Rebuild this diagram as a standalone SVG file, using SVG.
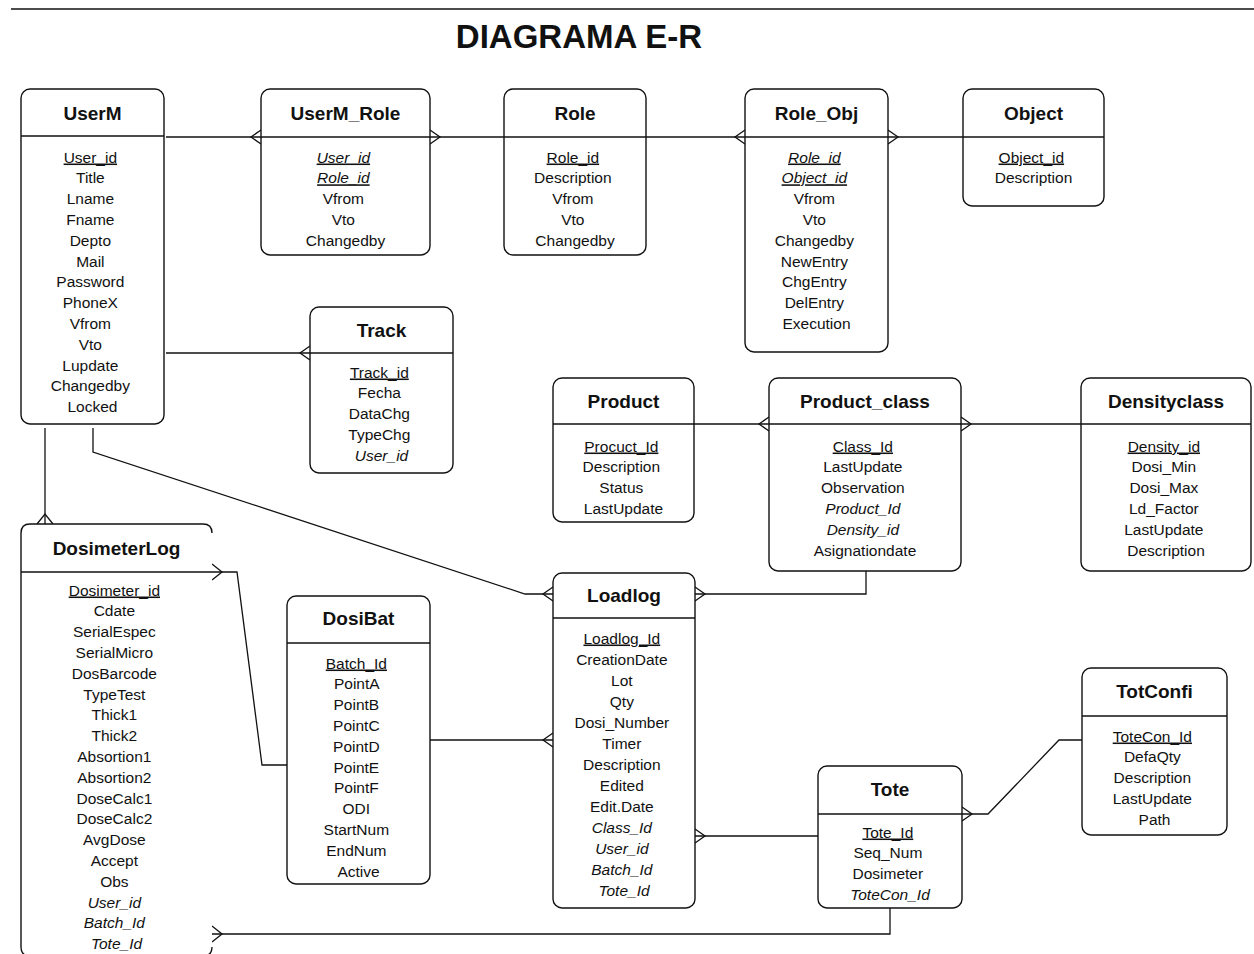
<svg xmlns="http://www.w3.org/2000/svg" width="1254" height="954" viewBox="0 0 1254 954">
  <style>
    .box { fill: #ffffff; stroke: #111; stroke-width: 1.4; }
    .sep { stroke: #111; stroke-width: 1.4; }
    .cn { fill: none; stroke: #111; stroke-width: 1.3; }
    .t { font-family: "Liberation Sans", Arial, sans-serif; font-weight: bold; font-size: 19px; fill: #111; text-anchor: middle; }
    .a { font-family: "Liberation Sans", Arial, sans-serif; font-size: 15.5px; fill: #111; text-anchor: middle; }
    .pk { text-decoration: underline; }
    .fk { font-style: italic; }
    .title { font-family: "Liberation Sans", Arial, sans-serif; font-weight: bold; font-size: 33px; fill: #111; text-anchor: middle; }
  </style>

  <rect width="1254" height="954" fill="#ffffff"/>
  <line x1="11" y1="9" x2="1254" y2="9" stroke="#111" stroke-width="1.6"/>
  <text class="title" x="579" y="48">DIAGRAMA E-R</text>

  <!-- relationships -->
  <g id="connectors">
    <path class="cn" d="M166,137 H261"/>
    <polyline class="cn" points="261,130 251,137 261,144"/>
    <path class="cn" d="M430,137 H504"/>
    <polyline class="cn" points="430,130 440,137 430,144"/>
    <path class="cn" d="M646,137 H745"/>
    <polyline class="cn" points="745,130 735,137 745,144"/>
    <path class="cn" d="M888,137 H963"/>
    <polyline class="cn" points="888,130 898,137 888,144"/>
    <path class="cn" d="M166,353 H310"/>
    <polyline class="cn" points="310,346 300,353 310,360"/>
    <path class="cn" d="M45,428 V524"/>
    <polyline class="cn" points="37,524 45,514 53,524"/>
    <path class="cn" d="M93,428 V452 L525,594 H553"/>
    <polyline class="cn" points="553,587 543,594 553,601"/>
    <path class="cn" d="M694,424 H769"/>
    <polyline class="cn" points="769,417 759,424 769,431"/>
    <path class="cn" d="M961,424 H1081"/>
    <polyline class="cn" points="961,417 971,424 961,431"/>
    <path class="cn" d="M866,571 V594 H695"/>
    <polyline class="cn" points="695,587 705,594 695,601"/>
    <path class="cn" d="M212,572 H237 L262,765 H287"/>
    <polyline class="cn" points="212,564 222,572 212,580"/>
    <path class="cn" d="M430,740 H553"/>
    <polyline class="cn" points="553,733 543,740 553,747"/>
    <path class="cn" d="M695,836 H818"/>
    <polyline class="cn" points="695,829 705,836 695,843"/>
    <path class="cn" d="M962,814 H988 L1059,740 H1082"/>
    <polyline class="cn" points="962,807 972,814 962,821"/>
    <path class="cn" d="M890,908 V934 H212"/>
    <polyline class="cn" points="212,926 222,934 212,942"/>
  </g>

  <g id="UserM">
    <rect class="box" x="21" y="89" width="143" height="335" rx="9"/>
    <line class="sep" x1="21" y1="136" x2="164" y2="136"/>
    <text class="t" x="92.5" y="120">UserM</text>
    <text class="a" x="92.5" y="162.5">
      <tspan class="pk" x="92.5" dy="0">User_id</tspan>
      <tspan x="92.5" dy="20.8">Title</tspan>
      <tspan x="92.5" dy="20.8">Lname</tspan>
      <tspan x="92.5" dy="20.8">Fname</tspan>
      <tspan x="92.5" dy="20.8">Depto</tspan>
      <tspan x="92.5" dy="20.8">Mail</tspan>
      <tspan x="92.5" dy="20.8">Password</tspan>
      <tspan x="92.5" dy="20.8">PhoneX</tspan>
      <tspan x="92.5" dy="20.8">Vfrom</tspan>
      <tspan x="92.5" dy="20.8">Vto</tspan>
      <tspan x="92.5" dy="20.8">Lupdate</tspan>
      <tspan x="92.5" dy="20.8">Changedby</tspan>
      <tspan x="92.5" dy="20.8">Locked</tspan>
    </text>
  </g>

  <g id="UserM_Role">
    <rect class="box" x="261" y="89" width="169" height="166" rx="9"/>
    <line class="sep" x1="261" y1="137" x2="430" y2="137"/>
    <text class="t" x="345.5" y="120">UserM_Role</text>
    <text class="a" x="345.5" y="162.5">
      <tspan class="pk fk" x="345.5" dy="0">User_id</tspan>
      <tspan class="pk fk" x="345.5" dy="20.8">Role_id</tspan>
      <tspan x="345.5" dy="20.8">Vfrom</tspan>
      <tspan x="345.5" dy="20.8">Vto</tspan>
      <tspan x="345.5" dy="20.8">Changedby</tspan>
    </text>
  </g>

  <g id="Role">
    <rect class="box" x="504" y="89" width="142" height="166" rx="9"/>
    <line class="sep" x1="504" y1="137" x2="646" y2="137"/>
    <text class="t" x="575" y="120">Role</text>
    <text class="a" x="575" y="162.5">
      <tspan class="pk" x="575" dy="0">Role_id</tspan>
      <tspan x="575" dy="20.8">Description</tspan>
      <tspan x="575" dy="20.8">Vfrom</tspan>
      <tspan x="575" dy="20.8">Vto</tspan>
      <tspan x="575" dy="20.8">Changedby</tspan>
    </text>
  </g>

  <g id="Role_Obj">
    <rect class="box" x="745" y="89" width="143" height="263" rx="9"/>
    <line class="sep" x1="745" y1="137" x2="888" y2="137"/>
    <text class="t" x="816.5" y="120">Role_Obj</text>
    <text class="a" x="816.5" y="162.5">
      <tspan class="pk fk" x="816.5" dy="0">Role_id</tspan>
      <tspan class="pk fk" x="816.5" dy="20.8">Object_id</tspan>
      <tspan x="816.5" dy="20.8">Vfrom</tspan>
      <tspan x="816.5" dy="20.8">Vto</tspan>
      <tspan x="816.5" dy="20.8">Changedby</tspan>
      <tspan x="816.5" dy="20.8">NewEntry</tspan>
      <tspan x="816.5" dy="20.8">ChgEntry</tspan>
      <tspan x="816.5" dy="20.8">DelEntry</tspan>
      <tspan x="816.5" dy="20.8">Execution</tspan>
    </text>
  </g>

  <g id="Object">
    <rect class="box" x="963" y="89" width="141" height="117" rx="9"/>
    <line class="sep" x1="963" y1="137" x2="1104" y2="137"/>
    <text class="t" x="1033.5" y="120">Object</text>
    <text class="a" x="1033.5" y="162.5">
      <tspan class="pk" x="1033.5" dy="0">Object_id</tspan>
      <tspan x="1033.5" dy="20.8">Description</tspan>
    </text>
  </g>

  <g id="Track">
    <rect class="box" x="310" y="307" width="143" height="166" rx="9"/>
    <line class="sep" x1="310" y1="353" x2="453" y2="353"/>
    <text class="t" x="381.5" y="337">Track</text>
    <text class="a" x="381.5" y="377.5">
      <tspan class="pk" x="381.5" dy="0">Track_id</tspan>
      <tspan x="381.5" dy="20.8">Fecha</tspan>
      <tspan x="381.5" dy="20.8">DataChg</tspan>
      <tspan x="381.5" dy="20.8">TypeChg</tspan>
      <tspan class="fk" x="381.5" dy="20.8">User_id</tspan>
    </text>
  </g>

  <g id="Product">
    <rect class="box" x="553" y="378" width="141" height="144" rx="9"/>
    <line class="sep" x1="553" y1="424" x2="694" y2="424"/>
    <text class="t" x="623.5" y="408">Product</text>
    <text class="a" x="623.5" y="451.5">
      <tspan class="pk" x="623.5" dy="0">Procuct_Id</tspan>
      <tspan x="623.5" dy="20.8">Description</tspan>
      <tspan x="623.5" dy="20.8">Status</tspan>
      <tspan x="623.5" dy="20.8">LastUpdate</tspan>
    </text>
  </g>

  <g id="Product_class">
    <rect class="box" x="769" y="378" width="192" height="193" rx="9"/>
    <line class="sep" x1="769" y1="424" x2="961" y2="424"/>
    <text class="t" x="865" y="408">Product_class</text>
    <text class="a" x="865" y="451.5">
      <tspan class="pk" x="865" dy="0">Class_Id</tspan>
      <tspan x="865" dy="20.8">LastUpdate</tspan>
      <tspan x="865" dy="20.8">Observation</tspan>
      <tspan class="fk" x="865" dy="20.8">Product_Id</tspan>
      <tspan class="fk" x="865" dy="20.8">Density_id</tspan>
      <tspan x="865" dy="20.8">Asignationdate</tspan>
    </text>
  </g>

  <g id="Densityclass">
    <rect class="box" x="1081" y="378" width="170" height="193" rx="9"/>
    <line class="sep" x1="1081" y1="424" x2="1251" y2="424"/>
    <text class="t" x="1166" y="408">Densityclass</text>
    <text class="a" x="1166" y="451.5">
      <tspan class="pk" x="1166" dy="0">Density_id</tspan>
      <tspan x="1166" dy="20.8">Dosi_Min</tspan>
      <tspan x="1166" dy="20.8">Dosi_Max</tspan>
      <tspan x="1166" dy="20.8">Ld_Factor</tspan>
      <tspan x="1166" dy="20.8">LastUpdate</tspan>
      <tspan x="1166" dy="20.8">Description</tspan>
    </text>
  </g>

  <g id="DosimeterLog">
    <!-- outline runs past the bottom edge; right side left open -->
    <path class="box" d="M212,533 Q212,524 203,524 H30 Q21,524 21,533 V947 Q21,956 30,956 H203 Q212,956 212,947"/>
    <line class="sep" x1="21" y1="572" x2="212" y2="572"/>
    <text class="t" x="116.5" y="555">DosimeterLog</text>
    <text class="a" x="116.5" y="595.5">
      <tspan class="pk" x="116.5" dy="0">Dosimeter_id</tspan>
      <tspan x="116.5" dy="20.8">Cdate</tspan>
      <tspan x="116.5" dy="20.8">SerialEspec</tspan>
      <tspan x="116.5" dy="20.8">SerialMicro</tspan>
      <tspan x="116.5" dy="20.8">DosBarcode</tspan>
      <tspan x="116.5" dy="20.8">TypeTest</tspan>
      <tspan x="116.5" dy="20.8">Thick1</tspan>
      <tspan x="116.5" dy="20.8">Thick2</tspan>
      <tspan x="116.5" dy="20.8">Absortion1</tspan>
      <tspan x="116.5" dy="20.8">Absortion2</tspan>
      <tspan x="116.5" dy="20.8">DoseCalc1</tspan>
      <tspan x="116.5" dy="20.8">DoseCalc2</tspan>
      <tspan x="116.5" dy="20.8">AvgDose</tspan>
      <tspan x="116.5" dy="20.8">Accept</tspan>
      <tspan x="116.5" dy="20.8">Obs</tspan>
      <tspan class="fk" x="116.5" dy="20.8">User_id</tspan>
      <tspan class="fk" x="116.5" dy="20.8">Batch_Id</tspan>
      <tspan class="fk" x="116.5" dy="20.8">Tote_Id</tspan>
    </text>
  </g>

  <g id="DosiBat">
    <rect class="box" x="287" y="596" width="143" height="288" rx="9"/>
    <line class="sep" x1="287" y1="643" x2="430" y2="643"/>
    <text class="t" x="358.5" y="625">DosiBat</text>
    <text class="a" x="358.5" y="668.5">
      <tspan class="pk" x="358.5" dy="0">Batch_Id</tspan>
      <tspan x="358.5" dy="20.8">PointA</tspan>
      <tspan x="358.5" dy="20.8">PointB</tspan>
      <tspan x="358.5" dy="20.8">PointC</tspan>
      <tspan x="358.5" dy="20.8">PointD</tspan>
      <tspan x="358.5" dy="20.8">PointE</tspan>
      <tspan x="358.5" dy="20.8">PointF</tspan>
      <tspan x="358.5" dy="20.8">ODI</tspan>
      <tspan x="358.5" dy="20.8">StartNum</tspan>
      <tspan x="358.5" dy="20.8">EndNum</tspan>
      <tspan x="358.5" dy="20.8">Active</tspan>
    </text>
  </g>

  <g id="Loadlog">
    <rect class="box" x="553" y="573" width="142" height="335" rx="9"/>
    <line class="sep" x1="553" y1="618" x2="695" y2="618"/>
    <text class="t" x="624" y="602">Loadlog</text>
    <text class="a" x="624" y="643.5">
      <tspan class="pk" x="624" dy="0">Loadlog_Id</tspan>
      <tspan x="624" dy="21">CreationDate</tspan>
      <tspan x="624" dy="21">Lot</tspan>
      <tspan x="624" dy="21">Qty</tspan>
      <tspan x="624" dy="21">Dosi_Number</tspan>
      <tspan x="624" dy="21">Timer</tspan>
      <tspan x="624" dy="21">Description</tspan>
      <tspan x="624" dy="21">Edited</tspan>
      <tspan x="624" dy="21">Edit.Date</tspan>
      <tspan class="fk" x="624" dy="21">Class_Id</tspan>
      <tspan class="fk" x="624" dy="21">User_id</tspan>
      <tspan class="fk" x="624" dy="21">Batch_Id</tspan>
      <tspan class="fk" x="624" dy="21">Tote_Id</tspan>
    </text>
  </g>

  <g id="Tote">
    <rect class="box" x="818" y="766" width="144" height="142" rx="9"/>
    <line class="sep" x1="818" y1="814" x2="962" y2="814"/>
    <text class="t" x="890" y="796">Tote</text>
    <text class="a" x="890" y="837.5">
      <tspan class="pk" x="890" dy="0">Tote_Id</tspan>
      <tspan x="890" dy="20.8">Seq_Num</tspan>
      <tspan x="890" dy="20.8">Dosimeter</tspan>
      <tspan class="fk" x="890" dy="20.8">ToteCon_Id</tspan>
    </text>
  </g>

  <g id="TotConfi">
    <rect class="box" x="1082" y="668" width="145" height="167" rx="9"/>
    <line class="sep" x1="1082" y1="716" x2="1227" y2="716"/>
    <text class="t" x="1154.5" y="698">TotConfi</text>
    <text class="a" x="1154.5" y="741.5">
      <tspan class="pk" x="1154.5" dy="0">ToteCon_Id</tspan>
      <tspan x="1154.5" dy="20.8">DefaQty</tspan>
      <tspan x="1154.5" dy="20.8">Description</tspan>
      <tspan x="1154.5" dy="20.8">LastUpdate</tspan>
      <tspan x="1154.5" dy="20.8">Path</tspan>
    </text>
  </g>
</svg>
